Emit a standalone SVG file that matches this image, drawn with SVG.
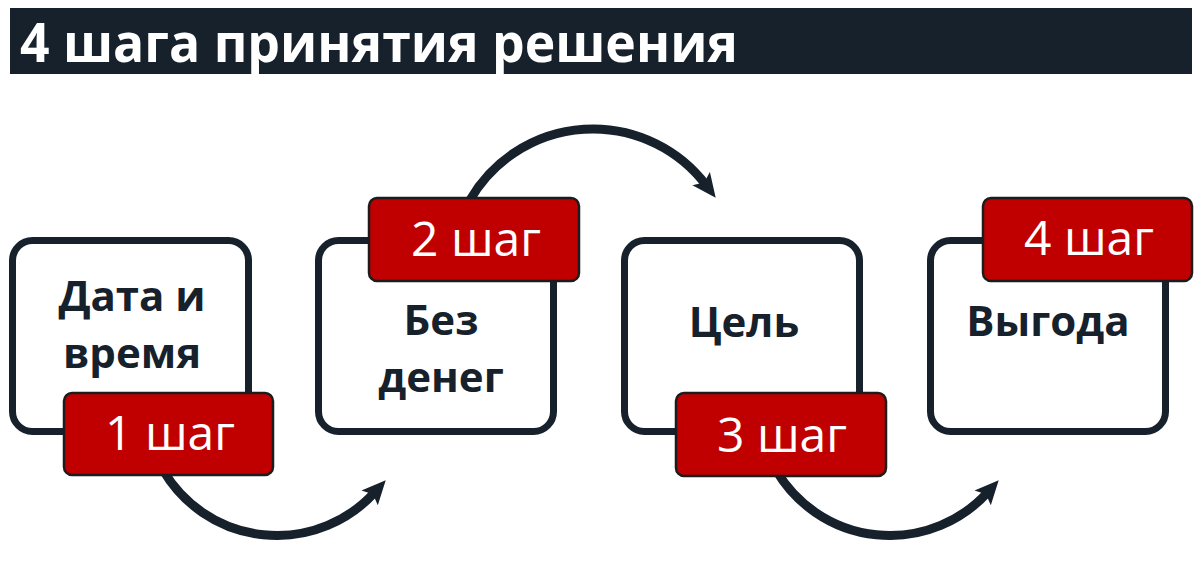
<svg xmlns="http://www.w3.org/2000/svg" width="1200" height="576" viewBox="0 0 1200 576">
<style>
.box{fill:#ffffff;stroke:#16212b;stroke-width:7}
.badge{fill:#c00000;stroke:#1e1b1d;stroke-width:2.5}
.lbl{font-family:"Open Sans","Liberation Sans",sans-serif;font-weight:700;font-size:42px;fill:#16212b;text-anchor:middle}
.step{font-family:"Open Sans","Liberation Sans",sans-serif;font-weight:400;font-size:48px;fill:#ffffff;text-anchor:middle}
.arc{fill:none;stroke:#16212b;stroke-width:9}
</style>
<defs>
<marker id="ah" markerUnits="userSpaceOnUse" viewBox="0 0 24 24" markerWidth="24" markerHeight="24" refX="8" refY="12" orient="auto">
<path d="M0,1 L24,12 L0,23 L5,12 z" fill="#16212b"/>
</marker>
</defs>
<rect x="0" y="0" width="1200" height="576" fill="#ffffff"/>
<g id="title">
<rect x="10" y="8" width="1182" height="66" fill="#16212b"/>
<text x="20" y="62" font-family="Open Sans, Liberation Sans, sans-serif" font-weight="700" font-size="54" fill="#ffffff" textLength="718" lengthAdjust="spacingAndGlyphs">4 шага принятия решения</text>
</g>
<g id="connectors">
<path class="arc" d="M163,470 A132,132 0 0 0 375,492" marker-end="url(#ah)"/>
<path class="arc" d="M470,200 A142,142 0 0 1 706,185" marker-end="url(#ah)"/>
<path class="arc" d="M776,470 A132,132 0 0 0 988,492" marker-end="url(#ah)"/>
</g>
<g id="node1">
<rect class="box" x="12.5" y="240.5" width="236" height="191" rx="20"/>
<text class="lbl" x="132" y="311">Дата и</text>
<text class="lbl" x="132" y="368">время</text>
<rect class="badge" x="64" y="393" width="209" height="82" rx="8"/>
<text class="step" x="170" y="450">1 шаг</text>
</g>
<g id="node2">
<rect class="box" x="318.5" y="240.5" width="235" height="191" rx="20"/>
<rect class="badge" x="369" y="198" width="210" height="83" rx="8"/>
<text class="step" x="476" y="256">2 шаг</text>
<text class="lbl" x="441" y="335">Без</text>
<text class="lbl" x="441" y="392">денег</text>
</g>
<g id="node3">
<rect class="box" x="624.5" y="240.5" width="235" height="191" rx="20"/>
<text class="lbl" x="744" y="337">Цель</text>
<rect class="badge" x="676" y="393" width="210" height="83" rx="8"/>
<text class="step" x="782" y="452">3 шаг</text>
</g>
<g id="node4">
<rect class="box" x="930.5" y="240.5" width="235" height="191" rx="20"/>
<rect class="badge" x="983" y="198" width="209" height="83" rx="8"/>
<text class="step" x="1089" y="255">4 шаг</text>
<text class="lbl" x="1048" y="336">Выгода</text>
</g>
</svg>
